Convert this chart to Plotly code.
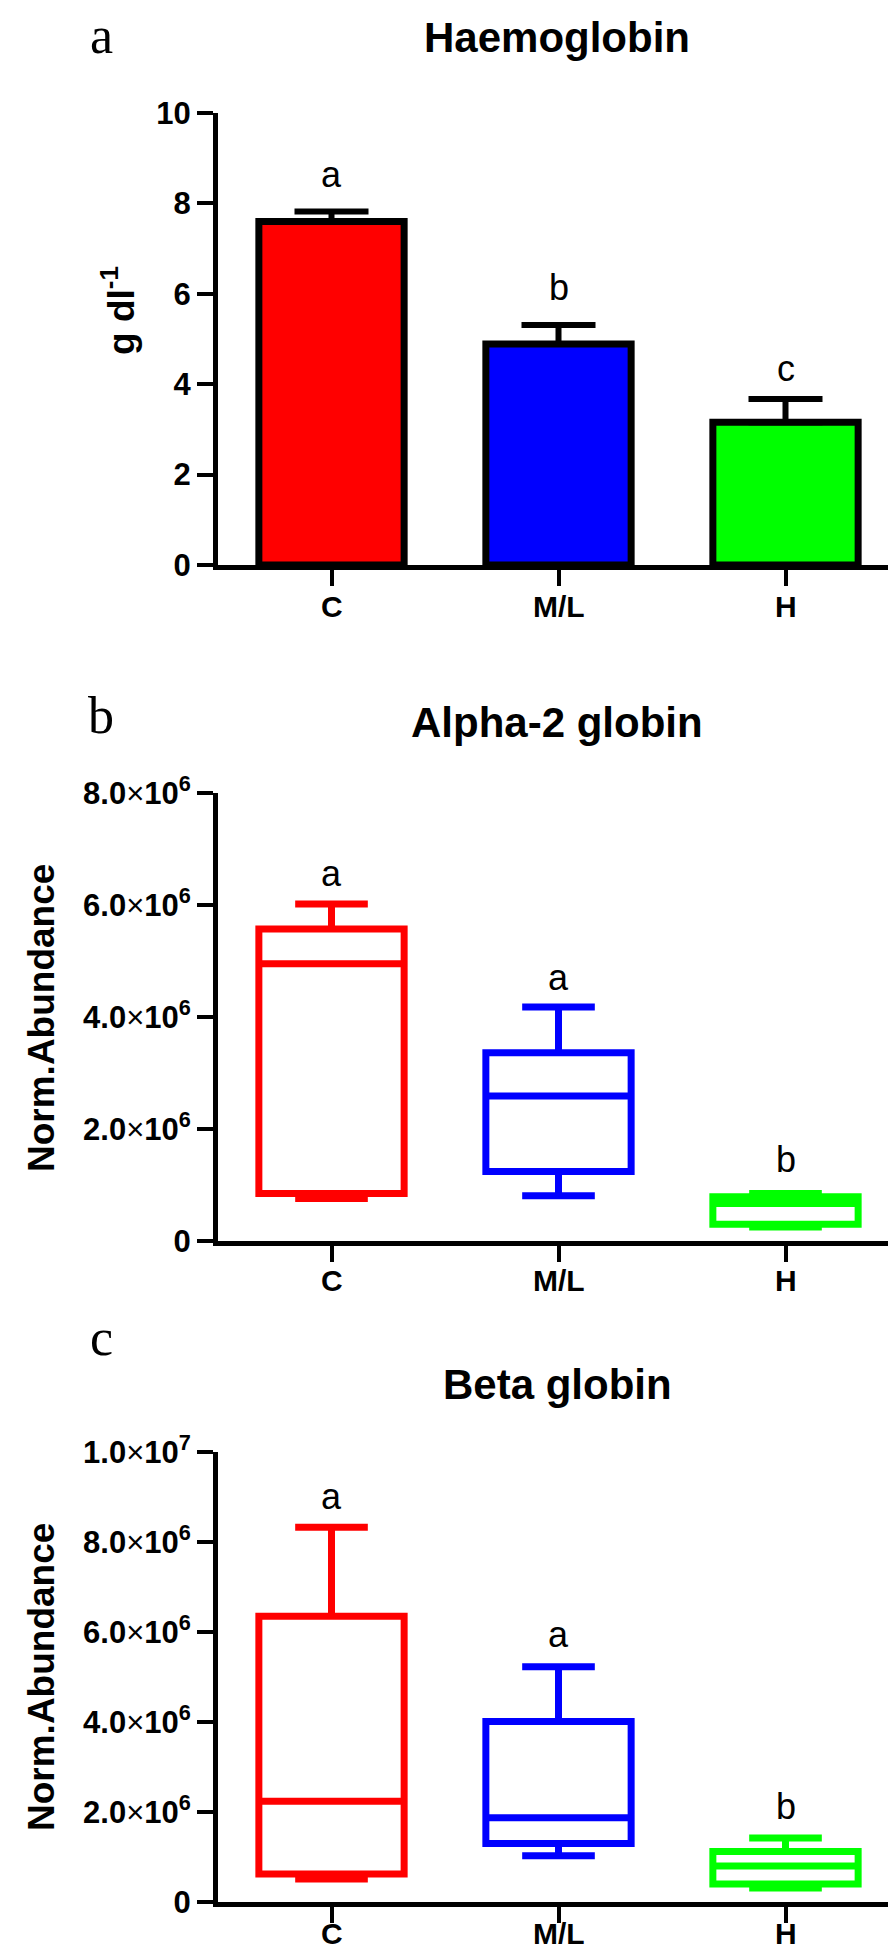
import plotly.graph_objects as go

W, H = 896, 1947

categories = ["C", "M/L", "H"]
colors = ["#FF0000", "#0000FF", "#00FF00"]

# Panel a: Haemoglobin (mean + upper error)
hb_mean = [7.60, 4.89, 3.16]
hb_err = [0.22, 0.42, 0.51]
hb_letters = ["a", "b", "c"]
hb_letter_y = [8.63, 6.14, 4.34]

# Panel b: Alpha-2 globin (box summary)
a2_lower = [0.76e6, 0.81e6, 0.25e6]
a2_q1 = [0.85e6, 1.24e6, 0.30e6]
a2_median = [4.95e6, 2.59e6, 0.67e6]
a2_q3 = [5.57e6, 3.36e6, 0.79e6]
a2_upper = [6.02e6, 4.18e6, 0.85e6]
a2_letters = ["a", "a", "b"]
a2_letter_y = [6.57e6, 4.70e6, 1.45e6]

# Panel c: Beta globin (box summary)
bg_lower = [0.51e6, 1.03e6, 0.31e6]
bg_q1 = [0.62e6, 1.30e6, 0.40e6]
bg_median = [2.24e6, 1.87e6, 0.80e6]
bg_q3 = [6.35e6, 4.01e6, 1.12e6]
bg_upper = [8.33e6, 5.23e6, 1.42e6]
bg_letters = ["a", "a", "b"]
bg_letter_y = [9.02e6, 5.94e6, 2.13e6]

a_ticks = [0, 2, 4, 6, 8, 10]
b_ticks = [0, 2e6, 4e6, 6e6, 8e6]
b_ticktext = ["<b>0</b>", "<b>2.0</b>×<b>10</b><sup><b>6</b></sup>", "<b>4.0</b>×<b>10</b><sup><b>6</b></sup>",
              "<b>6.0</b>×<b>10</b><sup><b>6</b></sup>", "<b>8.0</b>×<b>10</b><sup><b>6</b></sup>"]
c_ticks = [0, 2e6, 4e6, 6e6, 8e6, 1e7]
c_ticktext = b_ticktext + ["<b>1.0</b>×<b>10</b><sup><b>7</b></sup>"]

FONT = "Arial, Liberation Sans, Helvetica, sans-serif"
SERIF = "Times New Roman, Liberation Serif, serif"


def px_x(p):
    return p / W


def px_y(p):
    return 1 - p / H


fig = go.Figure()

fig.add_trace(go.Bar(
    x=categories, y=hb_mean, width=0.64,
    marker=dict(color=colors, line=dict(color="black", width=7)),
    error_y=dict(type="data", array=hb_err, arrayminus=[0, 0, 0], symmetric=False,
                 color="black", thickness=6, width=37),
    xaxis="x", yaxis="y", showlegend=False))

for i, c in enumerate(categories):
    fig.add_trace(go.Box(
        x=[c], q1=[a2_q1[i]], median=[a2_median[i]], q3=[a2_q3[i]],
        lowerfence=[a2_lower[i]], upperfence=[a2_upper[i]],
        width=0.64, whiskerwidth=0.5, boxpoints=False,
        line=dict(color=colors[i], width=7), fillcolor="rgba(255,255,255,0)",
        xaxis="x2", yaxis="y2", showlegend=False))
    fig.add_trace(go.Box(
        x=[c], q1=[bg_q1[i]], median=[bg_median[i]], q3=[bg_q3[i]],
        lowerfence=[bg_lower[i]], upperfence=[bg_upper[i]],
        width=0.64, whiskerwidth=0.5, boxpoints=False,
        line=dict(color=colors[i], width=7), fillcolor="rgba(255,255,255,0)",
        xaxis="x3", yaxis="y3", showlegend=False))

xdom = [px_x(210), px_x(891)]
axis_common = dict(showline=True, linecolor="black", linewidth=5, ticks="outside",
                   ticklen=16, tickwidth=4, tickcolor="black", showgrid=False,
                   zeroline=False, fixedrange=True)
yfont = dict(family=FONT, size=31, color="black")

layout = dict(
    width=W, height=H, margin=dict(l=0, r=0, t=0, b=0),
    paper_bgcolor="white", plot_bgcolor="white", template="none",
    boxmode="overlay", showlegend=False,
)
panels = [
    ("", "", [0, 10], 105, 557, a_ticks, ["<b>%d</b>" % v for v in a_ticks]),
    ("2", "2", [0, 8e6], 785, 1233, b_ticks, b_ticktext),
    ("3", "3", [0, 1e7], 1444, 1894, c_ticks, c_ticktext),
]
for xs, ys, rng, ytop, ybot, tv, tt in panels:
    layout["xaxis" + xs] = dict(domain=xdom, range=[-0.5, 2.5], type="category",
                               categoryorder="array", categoryarray=categories,
                               anchor="y" + ys, showticklabels=False, **axis_common)
    layout["yaxis" + ys] = dict(domain=[px_y(ybot), px_y(ytop)], range=rng,
                               anchor="x" + xs, tickvals=tv, ticktext=tt,
                               tickfont=yfont, **axis_common)
fig.update_layout(**layout)

ann = []
# category labels (x tick labels)
for xr, ypx in [("x", 598), ("x2", 1272), ("x3", 1925)]:
    for c in categories:
        ann.append(dict(text="<b>%s</b>" % c, x=c, y=px_y(ypx), xref=xr, yref="paper",
                        showarrow=False, xanchor="center", yanchor="middle",
                        font=dict(family=FONT, size=30, color="black")))
# titles
for text, y in [("Haemoglobin", 29), ("Alpha-2 globin", 714), ("Beta globin", 1376)]:
    ann.append(dict(text="<b>%s</b>" % text, x=px_x(549), y=px_y(y), xref="paper", yref="paper",
                    showarrow=False, xanchor="center", yanchor="middle",
                    font=dict(family=FONT, size=42, color="black")))
# panel letters
for text, y in [("a", 28), ("b", 707), ("c", 1329)]:
    ann.append(dict(text=text, x=px_x(93), y=px_y(y), xref="paper", yref="paper",
                    showarrow=False, xanchor="center", yanchor="middle",
                    font=dict(family=SERIF, size=52, color="black")))
# y-axis titles
ann.append(dict(text="<b>g dl</b><sup><b>-1</b></sup>", x=px_x(110), y=px_y(303), xref="paper", yref="paper",
                showarrow=False, textangle=-90, xanchor="center", yanchor="middle",
                font=dict(family=FONT, size=37, color="black")))
for y in [1010, 1669]:
    ann.append(dict(text="<b>Norm.Abundance</b>", x=px_x(33), y=px_y(y), xref="paper", yref="paper",
                    showarrow=False, textangle=-90, xanchor="center", yanchor="middle",
                    font=dict(family=FONT, size=37, color="black")))
# significance letters
for xr, yr, letters, ly in [("x", "y", hb_letters, hb_letter_y),
                            ("x2", "y2", a2_letters, a2_letter_y),
                            ("x3", "y3", bg_letters, bg_letter_y)]:
    for c, l, yv in zip(categories, letters, ly):
        ann.append(dict(text=l, x=c, y=yv, xref=xr, yref=yr, showarrow=False,
                        xanchor="center", yanchor="middle",
                        font=dict(family=FONT, size=36, color="black")))
fig.update_layout(annotations=ann)

fig.write_html("out.html")
